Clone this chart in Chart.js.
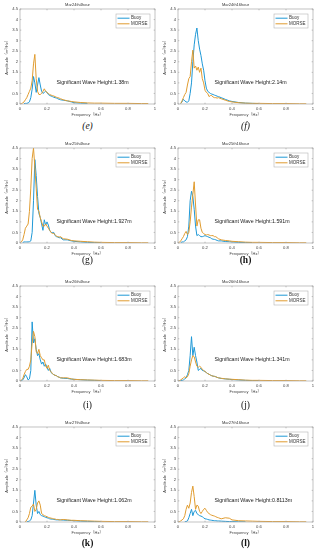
<!DOCTYPE html>
<html>
<head>
<meta charset="utf-8">
<script src="https://cdn.jsdelivr.net/npm/chart.js@4/dist/chart.umd.min.js"></script>
<style>
	body { margin: 0; background: #fff; }
	#page { position: relative; width: 318px; height: 550px; overflow: hidden; }
	.panel { position: absolute; width: 159px; height: 118px; }
	.tag {
		position: absolute; width: 135px; height: 12px; line-height: 12px;
		text-align: center; font-family: "Liberation Serif", "DejaVu Serif", serif;
		font-size: 9.5px; color: #111;
	}
</style>
</head>
<body>
<div id="page"></div>
<script>
// data (frequency in Hz, amplitude in m^2/Hz)

const freq = [0, 0.01, 0.02, 0.03, 0.04, 0.05, 0.06, 0.07, 0.08, 0.09,
	0.1, 0.11, 0.12, 0.13, 0.14, 0.15, 0.16, 0.17, 0.18, 0.19,
	0.2, 0.21, 0.22, 0.23, 0.24, 0.25, 0.26, 0.27, 0.28, 0.29, 0.3,
	0.32, 0.35, 0.38, 0.4, 0.45, 0.5, 0.55, 0.6, 0.7, 0.8, 0.9, 0.95];

const buoyE = [null, null, null, 0.02, 0.03, 0.03, 0.05, 0.1, 0.3, 0.7,
	1.3, 1.0, 0.55, 0.9, 1.25, 0.9, 0.6, 0.5, 0.55, 0.6,
	0.55, 0.45, 0.4, 0.38, 0.35, 0.32, 0.3, 0.28, 0.25, 0.22, 0.2,
	0.18, 0.15, 0.1, 0.06, 0.04, 0.03, null, null, null, null, null, null];
const morseE = [0, 0.02, 0.05, 0.1, 0.2, 0.3, 0.45, 0.6, 0.75, 1.1,
	1.9, 2.35, 1.2, 0.6, 0.45, 0.45, 0.5, 0.6, 0.72, 0.6,
	0.55, 0.5, 0.45, 0.42, 0.4, 0.38, 0.35, 0.32, 0.3, 0.28, 0.25,
	0.2, 0.15, 0.12, 0.1, 0.07, 0.05, 0.04, 0.04, 0.03, 0.03, 0.02, 0.02];

const buoyF = [null, null, 0.02, 0.1, 0.22, 0.15, 0.1, 0.08, 0.15, 0.5,
	1.0, 2.0, 2.8, 3.3, 3.6, 3.0, 2.6, 2.3, 1.9, 1.6,
	1.1, 0.75, 0.6, 0.55, 0.5, 0.47, 0.45, 0.42, 0.4, 0.37, 0.35,
	0.3, 0.22, 0.15, 0.12, 0.07, 0.04, 0.03, 0.02, null, null, null, null];
const morseF = [null, null, 0.02, 0.15, 0.3, 0.45, 0.55, 0.9, 1.2, 1.3,
	2.0, 2.55, 1.7, 1.8, 1.6, 1.75, 1.5, 1.7, 1.2, 1.0,
	0.65, 0.55, 0.5, 0.35, 0.4, 0.4, 0.33, 0.3, 0.3, 0.28, 0.3,
	0.25, 0.18, 0.12, 0.1, 0.06, 0.04, 0.03, 0.03, 0.02, 0.02, 0.01, 0.01];

const buoyG = [null, null, 0.02, 0.05, 0.05, 0.05, 0.05, 0.06, 0.1, 0.5,
	2.0, 3.95, 3.2, 2.2, 1.4, 1.2, 0.9, 0.6, 1.1, 0.85,
	1.0, 0.85, 0.6, 0.5, 0.5, 0.5, 0.35, 0.3, 0.28, 0.25, 0.25,
	0.15, 0.15, 0.1, 0.08, 0.05, 0.03, 0.02, 0.02, null, null, null, null];
const morseG = [0, 0.05, 0.15, 0.4, 0.7, 0.8, 0.9, 1.5, 2.6, 4.0,
	4.5, 3.6, 2.6, 1.6, 1.5, 1.2, 1.0, 0.8, 0.8, 0.9,
	0.8, 0.7, 0.6, 0.5, 0.45, 0.45, 0.4, 0.32, 0.3, 0.28, 0.3,
	0.2, 0.18, 0.12, 0.1, 0.08, 0.06, 0.04, 0.03, 0.02, 0.02, 0.01, 0.01];

const buoyH = [null, null, 0.02, 0.05, 0.05, 0.1, 0.15, 0.3, 0.8, 2.0,
	2.45, 2.2, 1.6, 0.8, 0.35, 0.4, 0.35, 0.3, 0.3, 0.32,
	0.35, 0.32, 0.3, 0.27, 0.25, 0.2, 0.18, 0.17, 0.15, 0.12, 0.1,
	0.1, 0.07, 0.06, 0.05, 0.03, 0.02, 0.02, null, null, null, null, null];
const morseH = [0, 0.03, 0.1, 0.2, 0.3, 0.45, 0.55, 0.4, 0.5, 1.0,
	1.7, 2.3, 2.9, 1.8, 0.8, 1.1, 1.1, 0.7, 0.5, 0.45,
	0.4, 0.38, 0.4, 0.38, 0.35, 0.35, 0.35, 0.3, 0.3, 0.25, 0.2,
	0.15, 0.12, 0.1, 0.08, 0.06, 0.04, 0.03, 0.03, 0.02, 0.02, 0.01, 0.01];

const buoyI = [0, 0.02, 0.05, 0.15, 0.3, 0.2, 0.05, 0.1, 0.5, 2.8,
	1.8, 2.0, 1.5, 1.2, 1.3, 1.0, 0.8, 0.9, 0.7, 0.8,
	0.65, 0.5, 0.6, 0.4, 0.35, 0.3, 0.27, 0.25, 0.2, 0.18, 0.15,
	0.13, 0.12, 0.09, 0.08, 0.06, 0.04, 0.03, 0.02, null, null, null, null];
const morseI = [0, 0.05, 0.1, 0.3, 0.45, 0.55, 0.55, 0.7, 1.0, 1.8,
	2.35, 2.1, 1.4, 1.3, 1.5, 1.2, 1.1, 1.0, 1.0, 0.7,
	0.6, 0.75, 0.5, 0.45, 0.35, 0.3, 0.27, 0.25, 0.2, 0.18, 0.15,
	0.15, 0.15, 0.1, 0.08, 0.06, 0.05, 0.04, 0.03, 0.02, 0.02, 0.01, 0.01];

const buoyJ = [0, 0.01, 0.02, 0.03, 0.05, 0.1, 0.15, 0.3, 0.5, 1.2,
	2.1, 1.2, 1.6, 1.2, 0.9, 0.5, 0.55, 0.6, 0.5, 0.48,
	0.45, 0.4, 0.35, 0.32, 0.28, 0.25, 0.23, 0.22, 0.2, 0.17, 0.15,
	0.12, 0.1, 0.08, 0.07, 0.05, 0.03, 0.02, 0.02, null, null, null, null];
const morseJ = [0, 0.02, 0.05, 0.1, 0.15, 0.2, 0.15, 0.2, 0.35, 0.7,
	1.0, 1.2, 1.15, 0.9, 0.7, 0.65, 0.7, 0.65, 0.55, 0.5,
	0.45, 0.4, 0.35, 0.32, 0.28, 0.25, 0.23, 0.22, 0.2, 0.17, 0.15,
	0.13, 0.1, 0.09, 0.08, 0.06, 0.04, 0.03, 0.03, 0.02, 0.02, 0.01, 0.01];

const buoyK = [null, null, null, null, null, 0.01, 0.02, 0.05, 0.1, 0.3,
	0.9, 1.5, 0.8, 0.4, 0.5, 0.35, 0.3, 0.28, 0.25, 0.22,
	0.2, 0.18, 0.15, 0.14, 0.13, 0.12, 0.11, 0.1, 0.1, 0.1, 0.1,
	0.09, 0.08, 0.07, 0.06, 0.04, 0.03, 0.02, 0.02, null, null, null, null];
const morseK = [null, null, null, null, 0, 0.1, 0.2, 0.4, 0.7, 0.75,
	0.85, 0.5, 0.6, 0.9, 1.0, 0.8, 0.4, 0.35, 0.3, 0.28,
	0.25, 0.22, 0.2, 0.18, 0.17, 0.15, 0.14, 0.12, 0.12, 0.1, 0.1,
	0.12, 0.1, 0.08, 0.08, 0.06, 0.05, 0.04, 0.03, 0.02, 0.02, 0.01, 0.01];

const buoyL = [null, null, null, null, null, 0.01, 0.02, 0.05, 0.2, 0.4,
	0.6, 0.3, 0.5, 0.55, 0.4, 0.35, 0.3, 0.28, 0.25, 0.2,
	0.15, 0.14, 0.12, 0.1, 0.09, 0.08, 0.07, 0.06, 0.06, 0.05, 0.05,
	0.04, 0.03, 0.02, 0.02, 0.01, 0.01, null, null, null, null, null, null];
const morseL = [0, 0.02, 0.05, 0.1, 0.15, 0.3, 0.6, 0.8, 0.65, 0.9,
	1.4, 1.7, 1.2, 0.6, 0.8, 0.75, 0.5, 0.4, 0.5, 0.6,
	0.65, 0.55, 0.45, 0.4, 0.35, 0.32, 0.3, 0.28, 0.25, 0.22, 0.2,
	0.15, 0.2, 0.18, 0.1, 0.06, 0.05, 0.04, 0.03, 0.02, 0.02, 0.01, 0.01];

const titles = ['Mar24th4hour', 'Mar24th16hour', 'Mar25th4hour', 'Mar25th16hour',
	'Mar26th4hour', 'Mar26th16hour', 'Mar27th4hour', 'Mar27th16hour'];
const waveHeights = ['1.38m', '2.14m', '1.927m', '1.591m', '1.683m', '1.341m', '1.062m', '0.8113m'];
const tags = ['(e)', '(f)', '(g)', '(h)', '(i)', '(j)', '(k)', '(l)'];
const buoySeries = [buoyE, buoyF, buoyG, buoyH, buoyI, buoyJ, buoyK, buoyL];
const morseSeries = [morseE, morseF, morseG, morseH, morseI, morseJ, morseK, morseL];

const yTicks = [0, 0.5, 1, 1.5, 2, 2.5, 3, 3.5, 4, 4.5];
const xTicks = [0, 0.2, 0.4, 0.6, 0.8, 1];


// layout

const colLefts = [0, 158];
const rowTops = [0, 139, 277, 418];
const tagCenters = [126, 260, 405, 543];
const tagStyles = ['italic', 'italic', 'normal', 'bold', 'normal', 'normal', 'bold', 'bold'];

const BLUE = '#1e98d6';
const ORANGE = '#e09c30';
const SANS = '"Liberation Sans", Arial, "Noto Sans CJK SC", sans-serif';


// box, legend and wave height note inside each plot

const panelDecor = {
	id: 'panelDecor',
	afterDatasetsDraw(chart, args, opts) {
		const {ctx, chartArea: a, scales} = chart;
		ctx.save();

		ctx.strokeStyle = '#a8a8a8';
		ctx.lineWidth = 0.7;
		ctx.strokeRect(a.left, a.top, a.right - a.left, a.bottom - a.top);

		// small inward ticks like matlab
		ctx.beginPath();
		xTicks.forEach(v => {
			const px = scales.x.getPixelForValue(v);
			ctx.moveTo(px, a.bottom); ctx.lineTo(px, a.bottom - 1.3);
			ctx.moveTo(px, a.top); ctx.lineTo(px, a.top + 1.3);
		});
		yTicks.forEach(v => {
			const py = scales.y.getPixelForValue(v);
			ctx.moveTo(a.left, py); ctx.lineTo(a.left + 1.3, py);
			ctx.moveTo(a.right, py); ctx.lineTo(a.right - 1.3, py);
		});
		ctx.stroke();

		ctx.fillStyle = '#1a1a1a';
		ctx.font = '5.3px ' + SANS;
		ctx.textBaseline = 'middle';
		ctx.textAlign = 'left';
		ctx.fillText(opts.note, scales.x.getPixelForValue(0.27), scales.y.getPixelForValue(1.02));

		const w = 34, h = 14;
		const bx = a.right - 5 - w, by = a.top + 5;
		ctx.fillStyle = '#fff';
		ctx.fillRect(bx, by, w, h);
		ctx.strokeStyle = '#b5b5b5';
		ctx.lineWidth = 0.6;
		ctx.strokeRect(bx, by, w, h);

		ctx.font = '4.5px ' + SANS;
		chart.data.datasets.forEach((ds, i) => {
			const ly = by + 4.2 + i * 5.6;
			ctx.strokeStyle = ds.borderColor;
			ctx.lineWidth = 1;
			ctx.beginPath();
			ctx.moveTo(bx + 1.5, ly);
			ctx.lineTo(bx + 13.5, ly);
			ctx.stroke();
			ctx.fillStyle = '#333';
			ctx.fillText(ds.label, bx + 15, ly);
		});

		ctx.restore();
	}
};

const toPoints = values => freq.map((f, i) => ({x: f, y: values[i]}));

const tickFont = {family: SANS, size: 4.2};
const plainNumber = value => String(value);

const makePanel = (i) => {
	const page = document.getElementById('page');
	const left = colLefts[i % 2];
	const top = rowTops[Math.floor(i / 2)];

	const box = document.createElement('div');
	box.className = 'panel';
	box.style.left = left + 'px';
	box.style.top = top + 'px';
	const canvas = document.createElement('canvas');
	canvas.width = 159;
	canvas.height = 118;
	box.appendChild(canvas);
	page.appendChild(box);

	const tag = document.createElement('div');
	tag.className = 'tag';
	tag.textContent = tags[i];
	tag.style.left = (left + 20) + 'px';
	tag.style.top = (tagCenters[Math.floor(i / 2)] - 6) + 'px';
	tag.style.fontStyle = tagStyles[i] === 'italic' ? 'italic' : 'normal';
	tag.style.fontWeight = tagStyles[i] === 'bold' ? 'bold' : 'normal';
	page.appendChild(tag);

	new Chart(canvas, {
		type: 'line',
		data: {
			datasets: [{
					label: 'Buoy',
					data: toPoints(buoySeries[i]),
					borderColor: BLUE,
					borderWidth: 1,
					pointRadius: 0,
					order: 1
				},
				{
					label: 'MORSE',
					data: toPoints(morseSeries[i]),
					borderColor: ORANGE,
					borderWidth: 1,
					pointRadius: 0,
					order: 0
				}
			]
		},
		plugins: [panelDecor],
		options: {
			responsive: false,
			animation: false,
			devicePixelRatio: 1,
			layout: {
				padding: {left: 0, right: 4, top: 0, bottom: 0}
			},
			scales: {
				x: {
					type: 'linear',
					min: 0,
					max: 1,
					afterBuildTicks: s => { s.ticks = xTicks.map(v => ({value: v})); },
					afterFit: s => { s.height = 14; },
					ticks: {font: tickFont, color: '#444', padding: 2.5, maxRotation: 0, callback: plainNumber},
					grid: {display: false, drawTicks: false},
					border: {display: false},
					title: {
						display: true,
						text: 'Frequency（Hz）',
						font: {family: SANS, size: 4},
						color: '#444',
						padding: {top: 0, bottom: 0.8}
					}
				},
				y: {
					min: 0,
					max: 4.5,
					afterBuildTicks: s => { s.ticks = yTicks.map(v => ({value: v})); },
					afterFit: s => { s.width = 20; },
					ticks: {font: tickFont, color: '#444', padding: 2, callback: plainNumber},
					grid: {display: false, drawTicks: false},
					border: {display: false},
					title: {
						display: true,
						text: 'Amplitude（m²/Hz）',
						font: {family: SANS, size: 4},
						color: '#444',
						padding: {top: 4.5, bottom: 0}
					}
				}
			},
			plugins: {
				legend: false,
				tooltip: {enabled: false},
				title: {
					display: true,
					text: titles[i],
					font: {family: SANS, size: 4, weight: 'normal'},
					color: '#333',
					padding: {top: 2.6, bottom: 1.6}
				},
				panelDecor: {
					note: 'Significant Wave Height:' + waveHeights[i]
				}
			}
		}
	});
};

document.addEventListener('DOMContentLoaded', () => {
	for (let i = 0; i < titles.length; i++) makePanel(i);
});
</script>
</body>
</html>
